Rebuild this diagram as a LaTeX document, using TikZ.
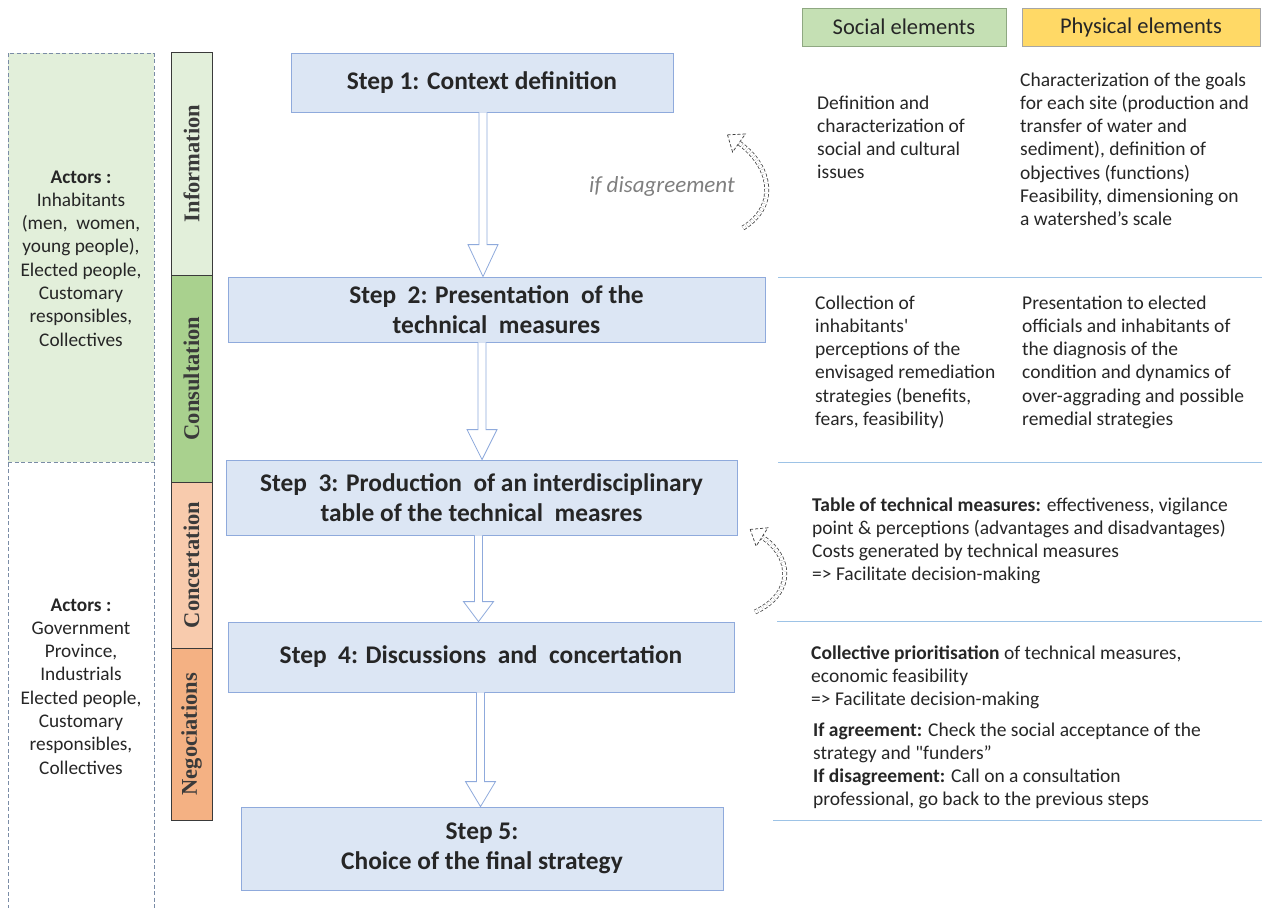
\documentclass[tikz,border=0pt]{standalone}
\usepackage{fontspec}
\setmainfont{Carlito}[Ligatures=TeXOff]
\newfontfamily\tnr{Liberation Serif}
\usetikzlibrary{calc}
\definecolor{actfill}{HTML}{E2EFDA}
\definecolor{actdash}{HTML}{7A8CA6}
\definecolor{infofill}{HTML}{E2EFDA}
\definecolor{consfill}{HTML}{A9D18E}
\definecolor{concfill}{HTML}{F8CBAD}
\definecolor{negofill}{HTML}{F4B183}
\definecolor{phaseline}{HTML}{3A3A3A}
\definecolor{stepfill}{HTML}{DCE6F4}
\definecolor{stepline}{HTML}{8FAADC}
\definecolor{socfill}{HTML}{C5E0B4}
\definecolor{socline}{HTML}{8FA882}
\definecolor{phyfill}{HTML}{FFD966}
\definecolor{phyline}{HTML}{A6A6A6}
\definecolor{sepline}{HTML}{9DC3E6}
\definecolor{txt}{HTML}{262626}
\definecolor{disag}{HTML}{7F7F7F}
\definecolor{curv}{HTML}{404040}
\newcommand\blockarr[4]{%
  \draw[hollow] let \p1=(#1.south), \p2=(#2.north) in
    (#3pt-4pt,\y1) -- (#3pt-4pt,\y2+#4pt) -- (#3pt-15pt,\y2+#4pt) -- (#3pt,\y2)
    -- (#3pt+15pt,\y2+#4pt) -- (#3pt+4pt,\y2+#4pt) -- (#3pt+4pt,\y1);}
\begin{document}
\begin{tikzpicture}[x=1pt,y=-1pt,
  every node/.style={text=txt},
  actorbox/.style={draw=actdash, dash pattern=on 4pt off 2.5pt, line width=1pt},
  phase/.style={draw=phaseline, line width=0.9pt, rotate=90, minimum height=41pt, inner sep=0pt,
     font=\tnr\fontsize{22.5}{26}\selectfont\bfseries, text=phaseline},
  stepbox/.style={draw=stepline, fill=stepfill, line width=0.8pt, inner sep=0pt, align=center,
     font=\fontsize{25.4}{30.5}\selectfont\bfseries},
  hdr/.style={line width=0.8pt, inner sep=0pt, minimum height=38pt, font=\fontsize{22.5}{26}\selectfont},
  body/.style={anchor=base west, align=left, inner sep=0pt, font=\fontsize{19.5}{23.3}\selectfont},
  actors/.style={anchor=base, align=center, inner sep=0pt, font=\fontsize{19.3}{23.3}\selectfont},
  hollow/.style={draw=stepline, fill=white, line width=0.8pt, line join=miter},
  sep/.style={draw=sepline, line width=1pt},
  curvarr/.style={draw=curv, line width=0.75pt, double=white, double distance=3.4pt, densely dashed},
  curvhead/.style={draw=curv, line width=0.75pt, fill=white, densely dashed, line join=miter}]
\useasboundingbox (0,0) rectangle (1262,908);
% actors boxes
\fill[actfill] (8,53) rectangle (154,462);
\draw[actorbox] (8,915) -- (8,53) -- (154,53) -- (154,915);
\draw[actorbox] (8,462) -- (154,462);
% (base anchor = baseline of the last line)
\node[actors] (act1) at (81,346.1) {\textbf{Actors :}\\Inhabitants\\(men,~ women,\\young people),\\Elected people,\\Customary\\responsibles,\\Collectives};
\node[actors] (act2) at (81,774.1) {\textbf{Actors :}\\Government\\Province,\\Industrials\\Elected people,\\Customary\\responsibles,\\Collectives};
% phases
\node[phase, fill=infofill, minimum width=223pt] (info) at (191.5,163.5) {Information};
\node[phase, fill=consfill, minimum width=207pt] (cons) at (191.5,378.5) {Consultation};
\node[phase, fill=concfill, minimum width=166pt] (conc) at (191.5,565) {Concertation};
\node[phase, fill=negofill, minimum width=172pt] (nego) at (191.5,734) {Negociations};
% steps
\node[stepbox, minimum width=382pt, minimum height=59pt] (s1) at (482,82.5) {Step 1: Context definition};
\node[stepbox, minimum width=537pt, minimum height=65pt] (s2) at (496.5,309.5) {Step~ 2: Presentation~ of the\\technical~ measures};
\node[stepbox, minimum width=511pt, minimum height=75pt] (s3) at (481.5,497.5) {Step~ 3: Production~ of an interdisciplinary\\table of the technical~ measres};
\node[stepbox, minimum width=506pt, minimum height=70pt] (s4) at (481,657) {Step~ 4: Discussions~ and~ concertation};
\node[stepbox, minimum width=482pt, minimum height=83pt] (s5) at (482,848.5) {Step 5:\\Choice of the final strategy};
% block arrows
\blockarr{s1}{s2}{483}{32}
\blockarr{s2}{s3}{482}{30}
\blockarr{s3}{s4}{478.5}{20}
\blockarr{s4}{s5}{480.5}{25}
% feedback arrows
\node[inner sep=0pt, font=\fontsize{23}{26}\selectfont\itshape, text=disag] (dis) at (662,186) {if disagreement};
\coordinate (c1t) at (743,228);
\coordinate (c1h) at (739,143);
\draw[curvarr] (c1t) .. controls (780,205) and (770,165) .. (c1h);
\draw[curvhead] (727.5,134.9) -- (745.4,134) -- (732.6,152) -- cycle;
\coordinate (c2t) at (755,612);
\coordinate (c2h) at (762,537);
\draw[curvarr] (c2t) .. controls (797,592) and (790,555) .. (c2h);
\draw[curvhead] (750.2,529.4) -- (767.9,527.8) -- (756.1,546.2) -- cycle;
% headers
\node[hdr, draw=socline, fill=socfill, minimum width=204pt] (soc) at (904,27) {Social elements};
\node[hdr, draw=phyline, fill=phyfill, minimum width=238pt] (phy) at (1141,27) {Physical elements};
% separators
\draw[sep] (778,277) -- (1262,277);
\draw[sep] (778,462) -- (1262,462);
\draw[sep] (777,621) -- (1262,621);
\draw[sep] (773,820) -- (1262,820);
% right texts (base anchor = baseline of the last line)
\node[body] (r1s) at (817,178.9) {Definition and\\characterization of\\social and cultural\\issues};
\node[body] (r1p) at (1020,225.8) {Characterization of the goals\\for each site (production and\\transfer of water and\\sediment), definition of\\objectives (functions)\\Feasibility, dimensioning on\\a watershed’s scale};
\node[body] (r2s) at (815,425.5) {Collection of\\inhabitants'\\perceptions of the\\envisaged remediation\\strategies (benefits,\\fears, feasibility)};
\node[body] (r2p) at (1022,425.5) {Presentation to elected\\officials and inhabitants of\\the diagnosis of the\\condition and dynamics of\\over-aggrading and possible\\remedial strategies};
\node[body] (r3) at (812,580.9) {\textbf{Table of technical measures:} effectiveness, vigilance\\point \& perceptions (advantages and disadvantages)\\Costs generated by technical measures\\=> Facilitate decision-making};
\node[body] (r4a) at (811,705.6) {\textbf{Collective prioritisation} of technical measures,\\economic feasibility\\=> Facilitate decision-making};
\node[body] (r4b) at (813,805.9) {\textbf{If agreement:} Check the social acceptance of the\\strategy and "funders”\\\textbf{If disagreement:} Call on a consultation\\professional, go back to the previous steps};
\end{tikzpicture}
\end{document}
